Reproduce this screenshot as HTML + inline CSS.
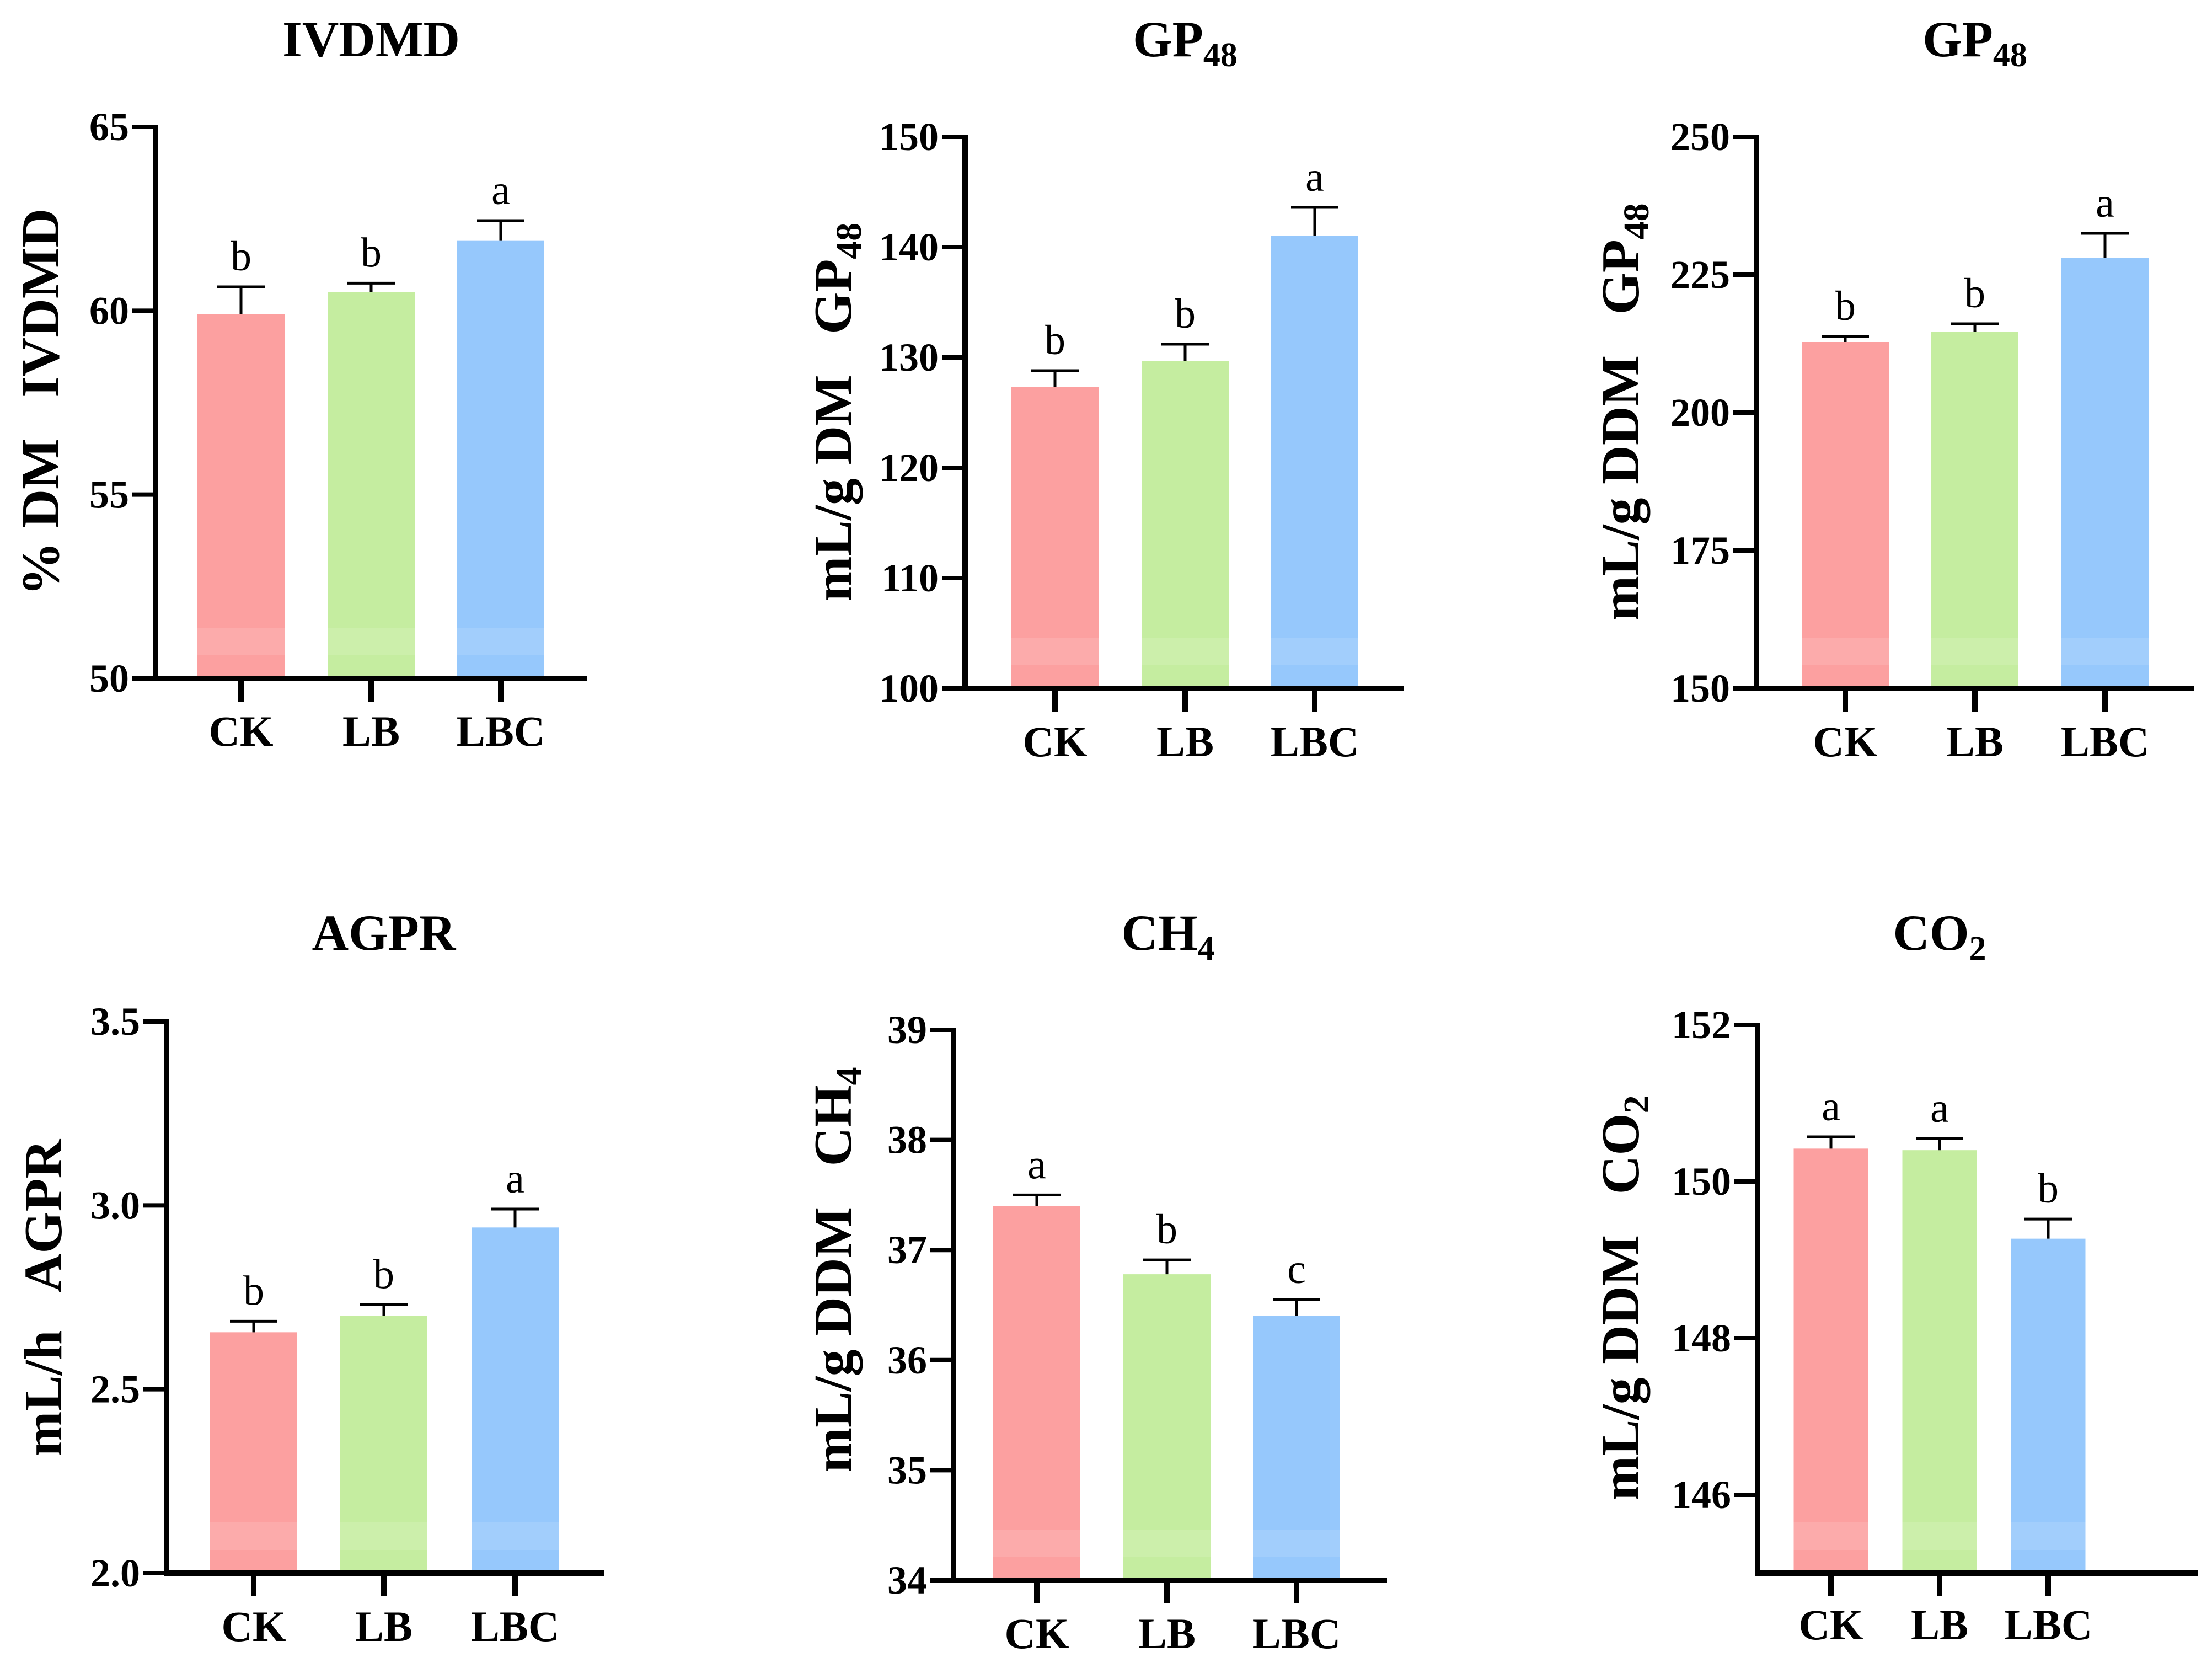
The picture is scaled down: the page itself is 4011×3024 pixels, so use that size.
<!DOCTYPE html>
<html><head><meta charset="utf-8"><style>
html,body{margin:0;padding:0;background:#fff}
svg{display:block}
text{font-family:"Liberation Serif",serif}
.pre{white-space:pre}
</style></head><body>
<svg id="chart" width="4011" height="3024" viewBox="0 0 4011 3024" xmlns="http://www.w3.org/2000/svg"></svg>
<script>
const categories = ["CK","LB","LBC"];
const colors = ["#fca0a0","#c5eda0","#96c8fc"];
const ivdmdValues = [59.9, 60.5, 61.9];
const ivdmdErrors = [0.75, 0.25, 0.55];
const ivdmdLetters = ["b","b","a"];
const gpDmValues = [127.3, 129.7, 141.0];
const gpDmErrors = [1.5, 1.5, 2.6];
const gpDmLetters = ["b","b","a"];
const gpDdmValues = [212.8, 214.6, 228.0];
const gpDdmErrors = [1.0, 1.5, 4.5];
const gpDdmLetters = ["b","b","a"];
const agprValues = [2.655, 2.70, 2.94];
const agprErrors = [0.03, 0.03, 0.05];
const agprLetters = ["b","b","a"];
const ch4Values = [37.4, 36.78, 36.4];
const ch4Errors = [0.1, 0.13, 0.15];
const ch4Letters = ["a","b","c"];
const co2Values = [150.42, 150.4, 149.27];
const co2Errors = [0.15, 0.15, 0.25];
const co2Letters = ["a","a","b"];
const ivdmdTicks = [50,55,60,65];
const gpDmTicks = [100,110,120,130,140,150];
const gpDdmTicks = [150,175,200,225,250];
const agprTicks = [2.0,2.5,3.0,3.5];
const ch4Ticks = [34,35,36,37,38,39];
const co2Ticks = [146,148,150,152];

const NS="http://www.w3.org/2000/svg";
const svg=document.getElementById('chart');
function el(tag,attrs,parent){const e=document.createElementNS(NS,tag);for(const k in attrs)e.setAttribute(k,attrs[k]);(parent||svg).appendChild(e);return e;}

const panels=[
 {key:"ivdmd",title:"IVDMD",sub:"",ytitle:"% DM   IVDMD",ysub:"",vals:ivdmdValues,errs:ivdmdErrors,lets:ivdmdLetters,ticks:ivdmdTicks,min:50,max:65,ax:282,yt:230,yb:1230,xe:1064,cx:[437,673,908],bw:158,tx:673,ty:102,ytx:72,yty:729,lb:1352,fmt:v=>v.toFixed(0)},
 {key:"gp48-dm",title:"GP",sub:"48",ytitle:"mL/g DM   GP",ysub:"48",vals:gpDmValues,errs:gpDmErrors,lets:gpDmLetters,ticks:gpDmTicks,min:100,max:150,ax:1750,yt:248,yb:1248,xe:2545,cx:[1913,2149,2384],bw:158,tx:2149,ty:102,ytx:1509,yty:747,lb:1371,fmt:v=>v.toFixed(0)},
 {key:"gp48-ddm",title:"GP",sub:"48",ytitle:"mL/g DDM   GP",ysub:"48",vals:gpDdmValues,errs:gpDdmErrors,lets:gpDdmLetters,ticks:gpDdmTicks,min:150,max:250,ax:3185,yt:248,yb:1248,xe:3978,cx:[3346,3581,3817],bw:158,tx:3581,ty:102,ytx:2937,yty:747,lb:1371,fmt:v=>v.toFixed(0)},
 {key:"agpr",title:"AGPR",sub:"",ytitle:"mL/h   AGPR",ysub:"",vals:agprValues,errs:agprErrors,lets:agprLetters,ticks:agprTicks,min:2.0,max:3.5,ax:302,yt:1852,yb:2852,xe:1095,cx:[460,696,934],bw:158,tx:696,ty:1722,ytx:77,yty:2353,lb:2975,fmt:v=>v.toFixed(1)},
 {key:"ch4",title:"CH",sub:"4",ytitle:"mL/g DDM   CH",ysub:"4",vals:ch4Values,errs:ch4Errors,lets:ch4Letters,ticks:ch4Ticks,min:34,max:39,ax:1729,yt:1867,yb:2865,xe:2515,cx:[1880,2116,2351],bw:158,tx:2118,ty:1722,ytx:1509,yty:2302,lb:2988,fmt:v=>v.toFixed(0)},
 {key:"co2",title:"CO",sub:"2",ytitle:"mL/g DDM   CO",ysub:"2",vals:co2Values,errs:co2Errors,lets:co2Letters,ticks:co2Ticks,min:145,max:152,ax:3187,yt:1858,yb:2852,xe:3985,cx:[3320,3517,3714],bw:135,tx:3517,ty:1722,ytx:2937,yty:2353,lb:2972,fmt:v=>v.toFixed(0)}
];

panels.forEach(p=>{
  const g=el('g',{});
  
  
  const y=v=>p.yb-(v-p.min)/(p.max-p.min)*(p.yb-p.yt);
  const t=el('text',{x:p.tx,y:p.ty,'text-anchor':'middle','font-size':92,'font-weight':'bold'},g);
  
  
  t.textContent=p.title;
  if(p.sub){const s=el('tspan',{'font-size':62,dy:18},t);s.textContent=p.sub;}
  const yt=el('text',{x:0,y:0,class:'pre',transform:`translate(${p.ytx+34},${p.yty}) rotate(-90)`,'text-anchor':'middle','font-size':98,'font-weight':'bold'},g);
  
  
  yt.textContent=p.ytitle;
  if(p.ysub){const s=el('tspan',{'font-size':66,dy:18},yt);s.textContent=p.ysub;}
  p.vals.forEach((v,i)=>{
    const x0=p.cx[i]-p.bw/2, top=y(v);
    const r=el('rect',{x:x0,y:top,width:p.bw,height:p.yb-top,fill:colors[i]},g);
    
    
    const band=el('rect',{x:x0,y:p.yb-92,width:p.bw,height:50,fill:'#fff',opacity:0.12},g);
    
    
    const et=y(v+p.errs[i]);
    const eb=el('path',{d:`M${p.cx[i]} ${top} V${et} M${p.cx[i]-43} ${et} H${p.cx[i]+43}`,stroke:'#000','stroke-width':5,fill:'none'},g);
    
    
    const lt=el('text',{x:p.cx[i],y:et-30,'text-anchor':'middle','font-size':76},g);
    
    
    lt.textContent=p.lets[i];
    const cl=el('text',{x:p.cx[i],y:p.lb,'text-anchor':'middle','font-size':78,'font-weight':'bold'},g);
    
    
    cl.textContent=categories[i];
    const xt=el('line',{x1:p.cx[i],x2:p.cx[i],y1:p.yb,y2:p.yb+42,stroke:'#000','stroke-width':10},g);
    
    
  });
  p.ticks.forEach(tv=>{
    const ty=y(tv);
    const tk=el('line',{x1:p.ax-42,x2:p.ax,y1:ty,y2:ty,stroke:'#000','stroke-width':8},g);
    
    
    const tl=el('text',{x:p.ax-48,y:ty+24,'text-anchor':'end','font-size':72,'font-weight':'bold'},g);
    
    
    tl.textContent=p.fmt(tv);
  });
  const axes=el('path',{d:`M${p.ax} ${p.yt-4} V${p.yb} H${p.xe}`,stroke:'#000','stroke-width':10,fill:'none'},g);
  
  
});
</script>
</body></html>
